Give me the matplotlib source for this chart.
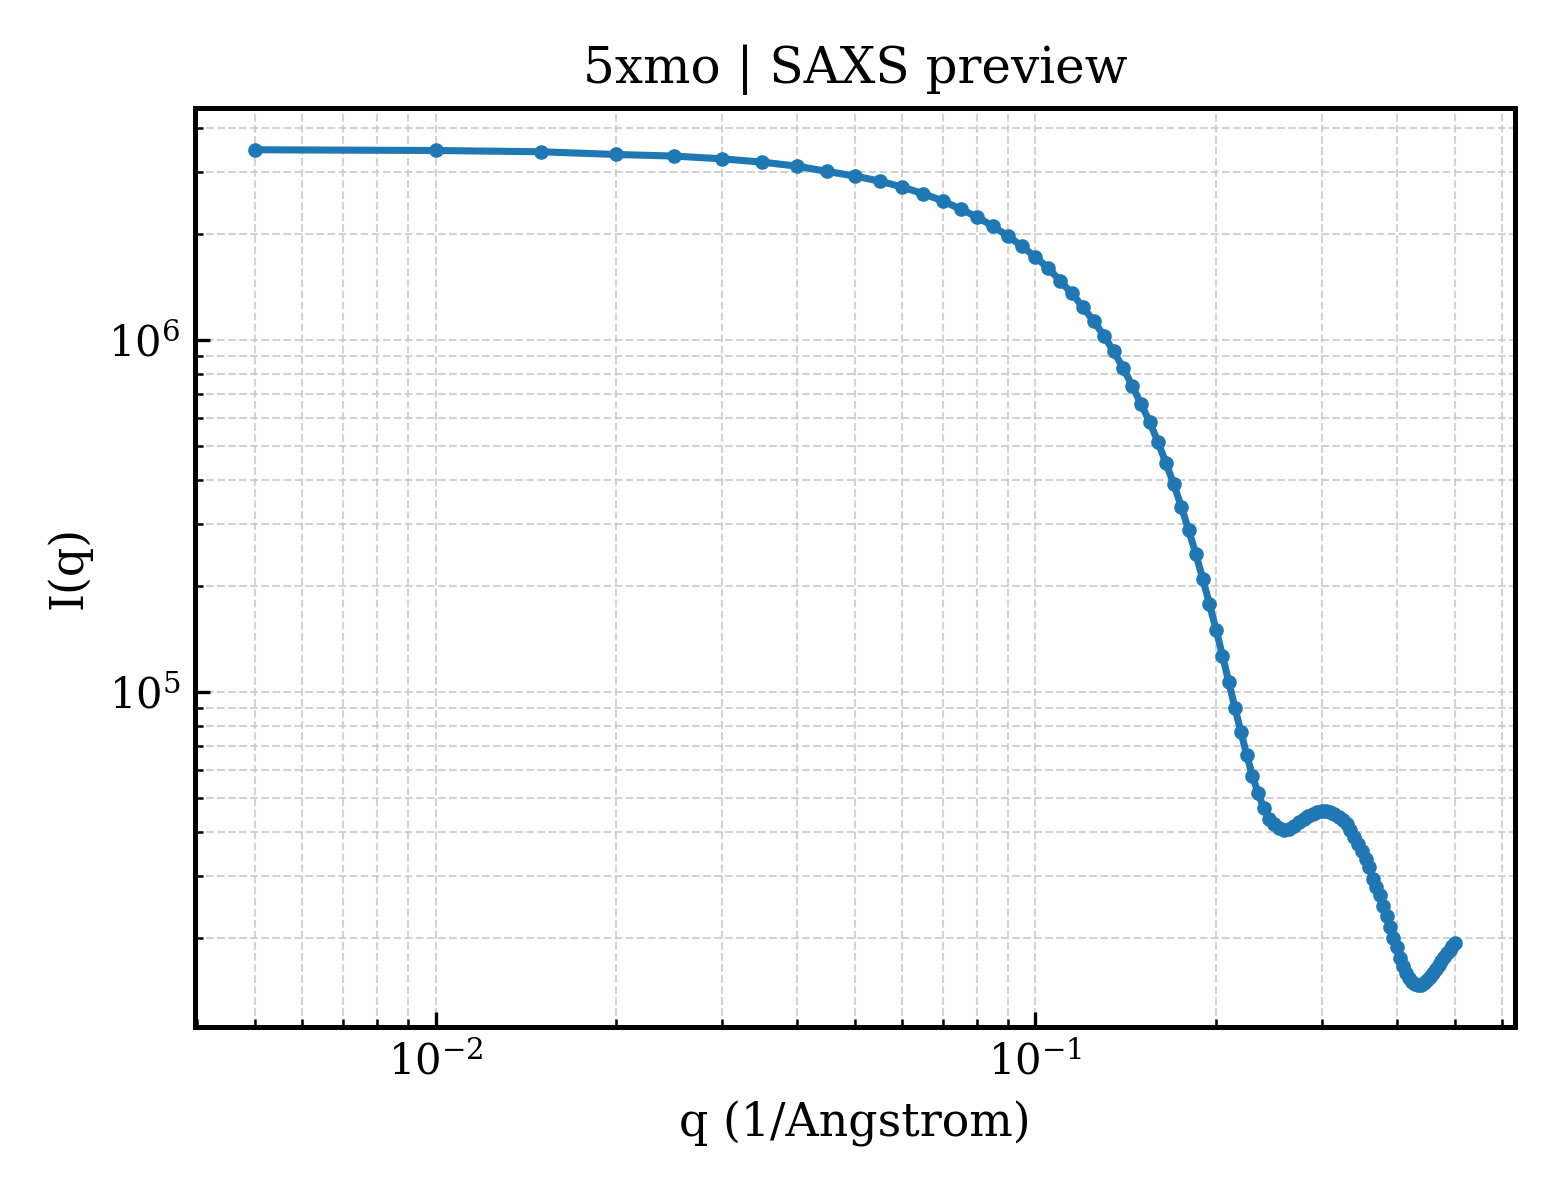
import numpy as np
import matplotlib
matplotlib.use('Agg')
import matplotlib.pyplot as plt

plt.rcParams['font.family'] = 'DejaVu Serif'
plt.rcParams['mathtext.fontset'] = 'dejavuserif'

# q em passos de 0.005 (1/Angstrom)
q = [0.005 * i for i in range(1, 101)]

# intensidade
intensity = [
    3.466e6, 3.450e6, 3.421e6, 3.361e6, 3.326e6, 3.267e6, 3.197e6, 3.115e6, 3.007e6, 2.918e6,
    2.824e6, 2.715e6, 2.599e6, 2.483e6, 2.351e6, 2.232e6, 2.099e6, 1.971e6, 1.842e6, 1.718e6,
    1.598e6, 1.468e6, 1.354e6, 1.238e6, 1.130e6, 1.028e6, 9.264e5, 8.316e5, 7.392e5, 6.558e5,
    5.841e5, 5.123e5, 4.464e5, 3.892e5, 3.355e5, 2.880e5, 2.466e5, 2.094e5, 1.775e5, 1.500e5,
    1.266e5, 1.066e5, 9.006e4, 7.685e4, 6.601e4, 5.765e4, 5.142e4, 4.683e4, 4.358e4, 4.191e4,
    4.096e4, 4.055e4, 4.082e4, 4.149e4, 4.259e4, 4.343e4, 4.429e4, 4.502e4, 4.547e4, 4.576e4,
    4.576e4, 4.537e4, 4.487e4, 4.415e4, 4.314e4, 4.191e4, 4.041e4, 3.873e4, 3.700e4, 3.534e4,
    3.354e4, 3.172e4, 2.924e4, 2.775e4, 2.650e4, 2.466e4, 2.302e4, 2.136e4, 2.000e4, 1.874e4,
    1.750e4, 1.655e4, 1.581e4, 1.535e4, 1.495e4, 1.476e4, 1.466e4, 1.462e4, 1.486e4, 1.510e4,
    1.545e4, 1.581e4, 1.623e4, 1.666e4, 1.710e4, 1.756e4, 1.802e4, 1.844e4, 1.887e4, 1.924e4,
]

fig, ax = plt.subplots(figsize=(5.2, 4), dpi=300)
fig.subplots_adjust(left=0.125, right=0.971, bottom=0.144, top=0.91)

ax.loglog(q, intensity, '-o', color='#1f77b4', lw=1.7, ms=2.5)

ax.set_title('5xmo | SAXS preview', fontsize=12)
ax.set_xlabel('q (1/Angstrom)', fontsize=11)
ax.set_ylabel('I(q)', fontsize=11)
ax.tick_params(which='both', direction='in', labelsize=10)
ax.grid(True, which='both', ls='--', lw=0.5, color='#c8c8c8', alpha=0.8)
for s in ax.spines.values():
    s.set_linewidth(1.2)

plt.savefig('out.png', dpi=300)
